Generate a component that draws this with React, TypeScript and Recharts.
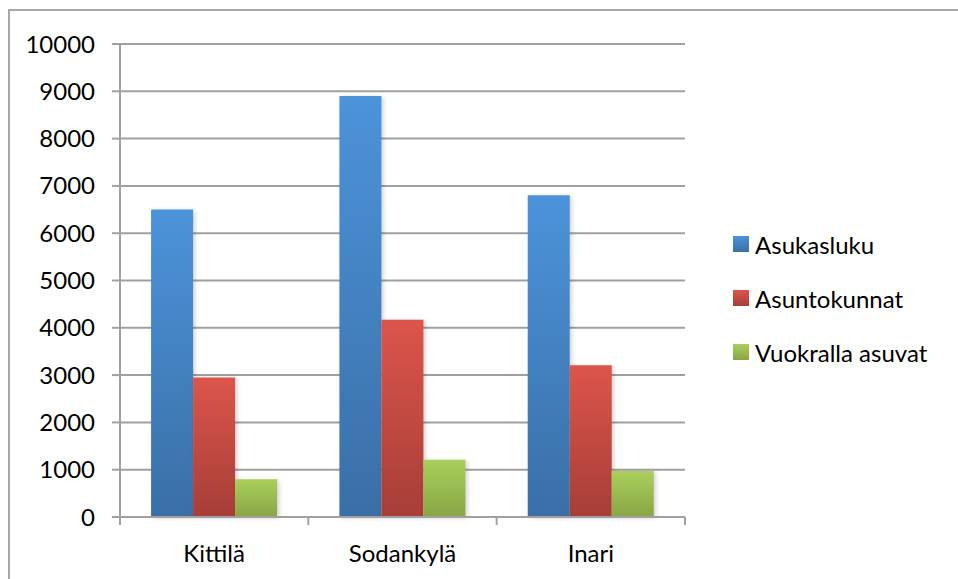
import { BarChart, Bar, XAxis, YAxis, CartesianGrid } from "recharts";

const categories = ["Kittilä", "Sodankylä", "Inari"];
const asukasluku = [6500, 8900, 6800];
const asuntokunnat = [2950, 4170, 3210];
const vuokralla = [800, 1210, 970];
const yTicks = [0, 1000, 2000, 3000, 4000, 5000, 6000, 7000, 8000, 9000, 10000];

const series = [
  { key: "asukasluku", name: "Asukasluku", top: "#4c93da", bottom: "#3a6fa6" },
  { key: "asuntokunnat", name: "Asuntokunnat", top: "#dc554b", bottom: "#a63e37" },
  { key: "vuokralla", name: "Vuokralla asuvat", top: "#aacf5c", bottom: "#88a644" },
];

const data = categories.map((c, i) => ({
  name: c,
  asukasluku: asukasluku[i],
  asuntokunnat: asuntokunnat[i],
  vuokralla: vuokralla[i],
}));

const FONT = "Lato, 'Noto Sans', sans-serif";
const AXIS = "#a0a0a0";
const PLOT_LEFT = 120;
const PLOT_RIGHT = 685;
const BAND = (PLOT_RIGHT - PLOT_LEFT) / categories.length;

function CategoryTick(props: any) {
  const { x, y, payload, index } = props;
  const left = x - BAND / 2;
  return (
    <g>
      <line x1={left} y1={y - 8} x2={left} y2={y} stroke={AXIS} strokeWidth={2} />
      {index === categories.length - 1 && (
        <line x1={x + BAND / 2} y1={y - 8} x2={x + BAND / 2} y2={y} stroke={AXIS} strokeWidth={2} />
      )}
      <text x={x} y={y + 37} textAnchor="middle" fontFamily={FONT} fontSize={24} fill="#000">
        {payload.value}
      </text>
    </g>
  );
}

export default function App() {
  return (
    <div style={{ position: "absolute", left: 0, top: 0, width: 958, height: 579, overflow: "hidden", background: "#fff" }}>
      <div
        style={{
          position: "absolute",
          left: 8,
          top: 9,
          width: 1000,
          height: 620,
          border: "2px solid #a8a8a8",
          boxSizing: "border-box",
        }}
      />
      <div style={{ position: "absolute", left: 0, top: 0 }}>
        <BarChart
          width={958}
          height={579}
          data={data}
          margin={{ top: 44, right: 958 - PLOT_RIGHT, left: 0, bottom: 0 }}
          barCategoryGap="16.5%"
          barGap={0}
        >
          <defs>
            {series.map((s) => (
              <linearGradient key={s.key} id={`g-${s.key}`} x1="0" y1="0" x2="0" y2="1">
                <stop offset="0%" stopColor={s.top} />
                <stop offset="100%" stopColor={s.bottom} />
              </linearGradient>
            ))}
          </defs>
          <CartesianGrid vertical={false} stroke={AXIS} strokeWidth={2} />
          <XAxis
            dataKey="name"
            height={62}
            axisLine={{ stroke: AXIS, strokeWidth: 2 }}
            tickLine={false}
            tick={<CategoryTick />}
            interval={0}
          />
          <YAxis
            width={PLOT_LEFT}
            domain={[0, 10000]}
            ticks={yTicks}
            interval={0}
            axisLine={{ stroke: AXIS, strokeWidth: 2 }}
            tickLine={{ stroke: AXIS, strokeWidth: 2 }}
            tickSize={8}
            tickMargin={17}
            tick={{ fontFamily: FONT, fontSize: 24, fill: "#000" }}
          />
          {series.map((s) => (
            <Bar
              key={s.key}
              dataKey={s.key}
              name={s.name}
              fill={`url(#g-${s.key})`}
              isAnimationActive={false}
              style={{ filter: "drop-shadow(2px 1px 2px rgba(0,0,0,0.18))" }}
            />
          ))}
        </BarChart>
      </div>
      <div style={{ position: "absolute", left: 733, top: 230, fontFamily: FONT, fontSize: 24, color: "#000" }}>
        {series.map((s) => (
          <div key={s.key} style={{ display: "flex", alignItems: "center", height: 28, marginBottom: 26 }}>
            <span
              style={{
                display: "inline-block",
                width: 16,
                height: 16,
                marginRight: 6,
                background: `linear-gradient(${s.top}, ${s.bottom})`,
              }}
            />
            <span>{s.name}</span>
          </div>
        ))}
      </div>
    </div>
  );
}
